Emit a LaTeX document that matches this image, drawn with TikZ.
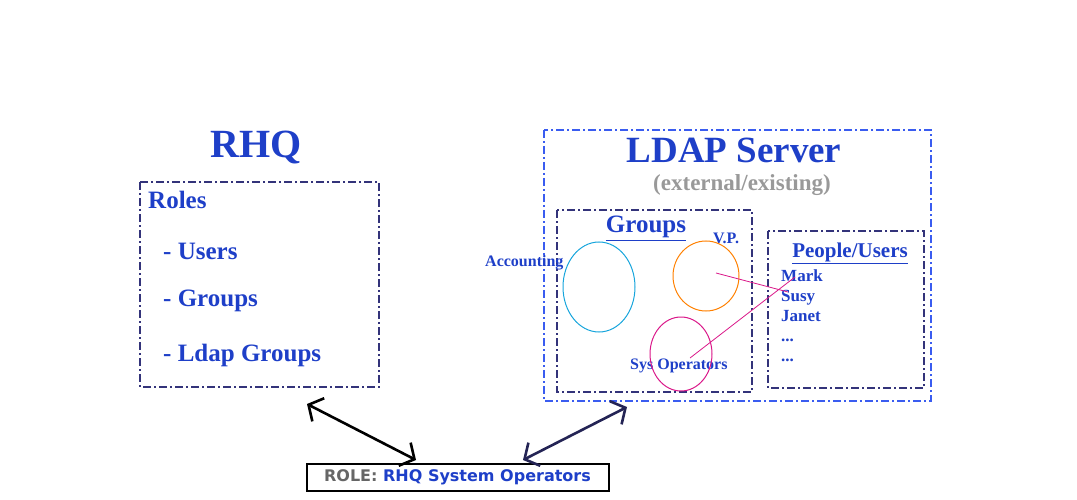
\documentclass[tikz,border=0pt]{standalone}
\usepackage{fontspec}
\setmainfont{Liberation Serif}
\newfontfamily\sansf{DejaVu Sans}
\usetikzlibrary{arrows.meta}
\definecolor{tblue}{HTML}{1E3FC8}
\definecolor{navy}{HTML}{33337A}
\definecolor{lblue}{HTML}{3A5CF0}
\begin{document}
\begin{tikzpicture}[x=1pt,y=-1pt,
  box/.style={draw=navy,line width=1.5pt,dash pattern=on 8pt off 3pt on 2pt off 3pt},
  txt/.style={text=tblue,font=\bfseries,inner sep=0pt,anchor=base west},
  dbl/.style={line width=2.6pt,{Straight Barb[length=11pt,width=26pt]}-{Straight Barb[length=11pt,width=26pt]}}]
\useasboundingbox (0,0) rectangle (1077,500);
\node[txt,anchor=base] (rhq) at (256,158) {\fontsize{40}{40}\selectfont RHQ};
\draw[box] (140,182) rectangle (379,387);
\node[box,draw=none,minimum size=0pt] (rhqbox) at (259.5,284.5) {};
\node[txt] (roles) at (148,208) {\fontsize{25}{25}\selectfont Roles};
\node[txt] (u) at (163,259) {\fontsize{25}{25}\selectfont - Users};
\node[txt] (g) at (163,306) {\fontsize{25}{25}\selectfont - Groups};
\node[txt] (lg) at (163,361) {\fontsize{25}{25}\selectfont - Ldap Groups};
\draw[box,draw=lblue] (544,130) rectangle (931,401);
\node[txt,anchor=base] (ldap) at (734,163) {\fontsize{37}{37}\selectfont LDAP Server};
\node[txt,anchor=base,text=gray!80] (ext) at (742,190) {\fontsize{23}{23}\selectfont (external/existing)};
\draw[box] (557,210) rectangle (752,392);
\draw[box] (768,231) rectangle (924,388);
\node[txt,anchor=base] (grp) at (646,233) {\fontsize{25}{25}\selectfont\underline{Groups}};
\node[txt,anchor=base] (pu) at (850,257) {\fontsize{21}{21}\selectfont\underline{People/Users}};
\node[txt] (acc) at (485,266) {\fontsize{16}{16}\selectfont Accounting};
\node[txt] (vp) at (713,243) {\fontsize{16}{16}\selectfont V.P.};
\node[txt] (so) at (630,369) {\fontsize{16}{16}\selectfont Sys Operators};
\node[txt] (mark) at (781,281) {\fontsize{17}{17}\selectfont Mark};
\node[txt] (susy) at (781,301) {\fontsize{17}{17}\selectfont Susy};
\node[txt] (janet) at (781,321) {\fontsize{17}{17}\selectfont Janet};
\node[txt] (d1) at (781,341) {\fontsize{17}{17}\selectfont ...};
\node[txt] (d2) at (781,361) {\fontsize{17}{17}\selectfont ...};
\draw[cyan!80!teal,line width=1pt] (599,287) ellipse [x radius=36,y radius=45];
\draw[orange,line width=1pt] (706,276) ellipse [x radius=33,y radius=35];
\draw[magenta!80!violet,line width=1pt] (681,354) ellipse [x radius=31,y radius=37];
\coordinate (vpc) at (716,273); \coordinate (susyp) at (788,292);
\coordinate (soc) at (690,358); \coordinate (markp) at (795,277);
\draw[magenta!80!violet,line width=0.8pt] (vpc) -- (susyp);
\draw[magenta!80!violet,line width=0.8pt] (soc) -- (markp);
\node[draw=black,line width=2pt,minimum width=302pt,minimum height=27pt,inner sep=0pt] (role) at (457.5,477.5)
 {\sansf\bfseries\fontsize{16}{16}\selectfont\textcolor{gray!120}{ROLE:} \textcolor{tblue}{RHQ System Operators}};
\coordinate (a1) at (307,404); \coordinate (a2) at (416,460);
\coordinate (b1) at (523,460); \coordinate (b2) at (627,407);
\draw[dbl,black] (a1) -- (a2);
\draw[dbl,navy!70!black] (b1) -- (b2);
\end{tikzpicture}
\end{document}
